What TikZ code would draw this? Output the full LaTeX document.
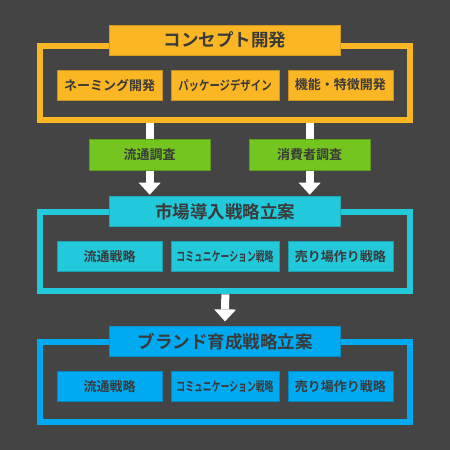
\documentclass[tikz,border=0pt]{standalone}
\usepackage{graphicx}
\usepackage{fontspec}
\newfontfamily\jpfont{Noto Sans CJK JP}[BoldFont={Noto Sans CJK JP Bold}]
\usepackage{tikz}
\usetikzlibrary{arrows.meta,positioning}
\pgfdeclarelayer{background}
\pgfsetlayers{background,main}
\definecolor{bgC}{HTML}{444444}
\definecolor{textC}{HTML}{3A3A3A}
\definecolor{conceptC}{HTML}{FBB624}
\definecolor{researchC}{HTML}{74C51F}
\definecolor{marketC}{HTML}{22C9DB}
\definecolor{brandC}{HTML}{00AAF0}
\newcommand\narrowtext[2]{\scalebox{#1}[1]{#2}}

\begin{document}
\begin{tikzpicture}[x=1pt,y=-1pt,
  every node/.style={text=textC,inner sep=0pt},
  frame/.style={draw=#1,line width=6pt,minimum width=370pt},
  titlebox/.style={fill=#1,draw=#1!85!black,line width=0.6pt,minimum width=231pt,minimum height=30pt,
    font=\jpfont\bfseries\fontsize{17.5}{18}\selectfont},
  subbox/.style={fill=#1,draw=#1!80!black,line width=0.6pt,minimum width=105pt,minimum height=30pt,
    font=\jpfont\bfseries\fontsize{13}{14}\selectfont},
  bar/.style={draw=white,line width=8pt},
  arrowbar/.style={bar,-{Triangle[width=22pt,length=12pt,line width=0pt]}}]

\begin{pgfonlayer}{background}
\fill[bgC] (0,0) rectangle (450,450);
\end{pgfonlayer}

%Concept
\node[frame=conceptC,minimum height=74pt] (conceptFrame) at (225.3,82.7) {};
\node[titlebox=conceptC] (concept) at (225,40) {コンセプト開発};
\node[subbox=conceptC] (naming) at (109.5,85) {ネーミング開発};
\node[subbox=conceptC,minimum width=108pt] (package) at (225,85) {\narrowtext{0.8}{パッケージデザイン}};
\node[subbox=conceptC] (feature) at (340.3,85) {機能・特徴開発};

%Research
\node[subbox=researchC,minimum width=121pt,minimum height=31pt] (distResearch) at (149.7,154.7) {流通調査};
\node[subbox=researchC,minimum width=121pt,minimum height=31pt] (consumerResearch) at (309.7,154.7) {消費者調査};

%Market entry
\node[frame=marketC,minimum height=79.3pt] (marketFrame) at (225.3,251.7) {};
\node[titlebox=marketC] (market) at (225,211.7) {市場導入戦略立案};
\node[subbox=marketC] (marketDist) at (109.5,256.7) {流通戦略};
\node[subbox=marketC,minimum width=108pt] (marketComm) at (225,256.7) {\narrowtext{0.68}{コミュニケーション戦略}};
\node[subbox=marketC] (marketStore) at (340.3,256.7) {売り場作り戦略};

%Brand
\node[frame=brandC,minimum height=79.7pt] (brandFrame) at (225.3,382.2) {};
\node[titlebox=brandC] (brand) at (225,341.7) {ブランド育成戦略立案};
\node[subbox=brandC] (brandDist) at (109.5,386.7) {流通戦略};
\node[subbox=brandC,minimum width=108pt] (brandComm) at (225,386.7) {\narrowtext{0.68}{コミュニケーション戦略}};
\node[subbox=brandC] (brandStore) at (340.3,386.7) {売り場作り戦略};

% arrows
\begin{pgfonlayer}{background}
\draw[bar] (conceptFrame.south -| distResearch.north) -- (distResearch.north);
\draw[bar] (conceptFrame.south -| consumerResearch.north) -- (consumerResearch.north);
\draw[arrowbar] (distResearch.south) -- ([yshift=1.7pt]market.north -| distResearch.south);
\draw[arrowbar] (consumerResearch.south) -- ([yshift=1.7pt]market.north -| consumerResearch.south);
\draw[arrowbar] (marketFrame.south) -- ([yshift=5pt]brand.north);
\end{pgfonlayer}

\end{tikzpicture}
\end{document}
